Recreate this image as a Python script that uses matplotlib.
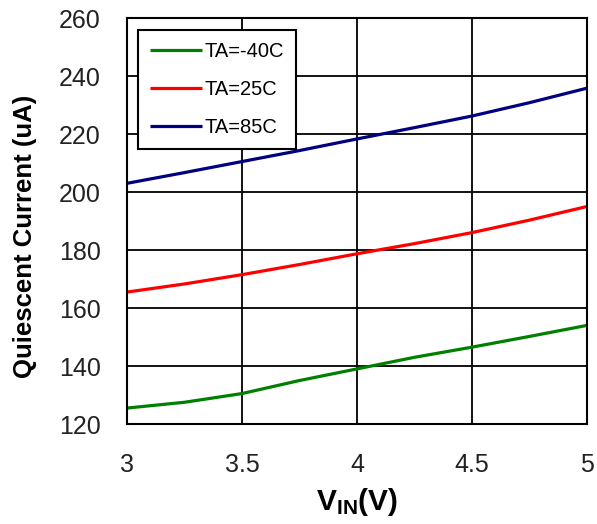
import matplotlib
matplotlib.use("Agg")
import matplotlib.pyplot as plt

plt.rcParams['font.family'] = ['Liberation Sans', 'DejaVu Sans']
plt.rcParams['mathtext.fontset'] = 'custom'
plt.rcParams['mathtext.rm'] = 'Liberation Sans'
plt.rcParams['mathtext.bf'] = 'Liberation Sans:bold'

vin = [3.0, 3.25, 3.5, 3.75, 4.0, 4.25, 4.5, 4.75, 5.0]
ta_m40 = [125.5, 127.5, 130.5, 135.0, 139.0, 143.0, 146.5, 150.2, 154.0]
ta_25 = [165.5, 168.3, 171.5, 175.0, 178.7, 182.2, 186.0, 190.3, 195.0]
ta_85 = [203.0, 206.7, 210.5, 214.3, 218.3, 222.2, 226.2, 230.8, 235.8]
labels = ['TA=-40C', 'TA=25C', 'TA=85C']
colors = ['#008000', '#ff0000', '#000080']
xticks = [3, 3.5, 4, 4.5, 5]
xticklabels = ['3', '3.5', '4', '4.5', '5']
yticks = [120, 140, 160, 180, 200, 220, 240, 260]

fig = plt.figure(figsize=(5.97, 5.24), dpi=100)
ax = fig.add_axes([0.2127, 0.1908, 0.7703, 0.7748])

for ys, lab, c in zip([ta_m40, ta_25, ta_85], labels, colors):
    ax.plot(vin, ys, color=c, lw=2.3, label=lab, solid_capstyle='butt')

ax.set_xlim(3, 5)
ax.set_ylim(120, 260)
ax.set_xticks(xticks)
ax.set_xticklabels(xticklabels)
ax.set_yticks(yticks)
ax.grid(True, color='black', lw=1.3)
ax.set_axisbelow(True)
for s in ax.spines.values():
    s.set_color('black')
    s.set_linewidth(1.5)
ax.tick_params(length=0, labelsize=18, colors='#222222')
ax.tick_params(axis='y', pad=19)
ax.tick_params(axis='x', pad=21)

ax.set_ylabel('Quiescent Current (uA)', fontsize=18.5, fontweight='bold')
ax.yaxis.set_label_coords(-0.196, 0.462)
ax.set_xlabel(r'$\mathbf{V_{IN}(V)}$', fontsize=21.5, labelpad=6)

leg = ax.legend(loc='upper left', bbox_to_anchor=(138/597, 1 - 30/524),
                bbox_transform=fig.transFigure, fontsize=14.5, frameon=True,
                fancybox=False, edgecolor='black', framealpha=1,
                handlelength=2.6, handletextpad=0.1, labelspacing=0.95,
                borderpad=0.6, borderaxespad=0)
leg.get_frame().set_linewidth(1.5)

fig.savefig('out.png', dpi=100)
